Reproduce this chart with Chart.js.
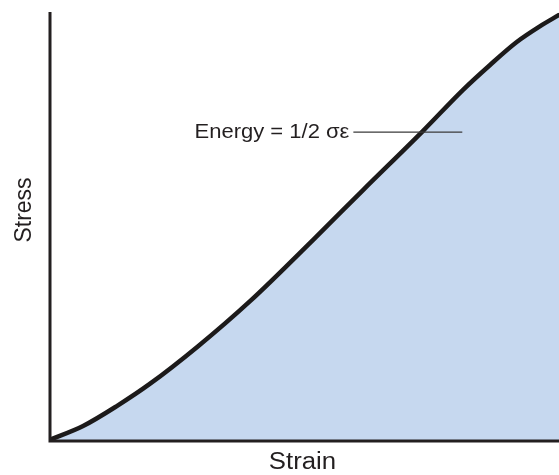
<!DOCTYPE html>
<html>
<head>
<meta charset="utf-8">
<script src="https://cdn.jsdelivr.net/npm/chart.js@4.4.1/dist/chart.umd.min.js"></script>
<style>
  html, body { margin: 0; padding: 0; background: #ffffff; }
  #wrap { width: 559px; height: 475px; position: relative; }
</style>
</head>
<body>
<div id="wrap"><canvas id="c"></canvas></div>
<script>
// Strain (x) and Stress (y), arbitrary units 0-100
const strain = [0, 6.5, 13.2, 19.6, 29.1, 39.3, 51.7, 61.5, 73.3, 81.1, 86.4, 91.7, 96.3, 100];
const stress = [0.3, 3.5, 8.2, 13.3, 22.1, 32.6, 46.9, 58.5, 72.3, 81.8, 87.6, 93.0, 96.7, 99.3];
const xTitle = "Strain";
const yTitle = "Stress";
const annotationText = "Energy = 1/2 σε";
const annotationStart = 59.6;  // strain where the leader line begins
const annotationEnd = 81.0;    // strain where the leader line ends
const annotationLevel = 72.0;  // stress level of the leader line

const points = strain.map((x, i) => ({ x: x, y: stress[i] }));

const decor = {
  id: 'decor',
  afterDatasetsDraw(chart) {
    const { ctx, chartArea, scales } = chart;
    const xs = scales.x, ys = scales.y;
    ctx.save();
    // axes lines
    ctx.strokeStyle = '#231f20';
    ctx.lineWidth = 3;
    ctx.beginPath();
    ctx.moveTo(chartArea.left, chartArea.top);
    ctx.lineTo(chartArea.left, chartArea.bottom);
    ctx.lineTo(chartArea.right + 2, chartArea.bottom);
    ctx.stroke();
    // annotation leader line
    const ly = ys.getPixelForValue(annotationLevel);
    const lx0 = xs.getPixelForValue(annotationStart);
    const lx1 = xs.getPixelForValue(annotationEnd);
    ctx.strokeStyle = '#3a3a3a';
    ctx.lineWidth = 1.3;
    ctx.beginPath();
    ctx.moveTo(lx0, ly);
    ctx.lineTo(lx1, ly);
    ctx.stroke();
    // annotation text
    ctx.fillStyle = '#231f20';
    ctx.font = '20px "Liberation Sans", Arial, sans-serif';
    ctx.textAlign = 'right';
    ctx.textBaseline = 'middle';
    ctx.save();
    ctx.translate(lx0 - 4, ly);
    ctx.scale(1.1, 1);
    ctx.fillText(annotationText, 0, 0);
    ctx.restore();
    // axis titles
    ctx.font = '23px "Liberation Sans", Arial, sans-serif';
    ctx.textAlign = 'center';
    ctx.textBaseline = 'middle';
    ctx.save();
    ctx.translate((chartArea.left + chartArea.right) / 2 - 2, chartArea.bottom + 22);
    ctx.scale(1.12, 1);
    ctx.fillText(xTitle, 0, 0);
    ctx.restore();
    ctx.save();
    ctx.translate(chartArea.left - 25, chartArea.top + 198);
    ctx.rotate(-Math.PI / 2);
    ctx.fillText(yTitle, 0, 0);
    ctx.restore();
    ctx.restore();
  }
};

new Chart(document.getElementById('c'), {
  type: 'line',
  data: {
    datasets: [{
      data: points,
      borderColor: '#1c1a1a',
      borderWidth: 4.5,
      backgroundColor: '#c6d8ef',
      fill: 'origin',
      pointRadius: 0,
      cubicInterpolationMode: 'monotone',
      borderCapStyle: 'round'
    }]
  },
  options: {
    responsive: true,
    maintainAspectRatio: false,
    animation: false,
    layout: { padding: { left: 50, top: 12, right: 0, bottom: 34 } },
    plugins: { legend: { display: false }, tooltip: { enabled: false } },
    scales: {
      x: {
        type: 'linear', min: 0, max: 100,
        display: true,
        grid: { display: false, drawTicks: false },
        border: { display: false },
        ticks: { display: false }
      },
      y: {
        type: 'linear', min: 0, max: 100,
        display: true,
        grid: { display: false, drawTicks: false },
        border: { display: false },
        ticks: { display: false }
      }
    }
  },
  plugins: [decor]
});
</script>
</body>
</html>
